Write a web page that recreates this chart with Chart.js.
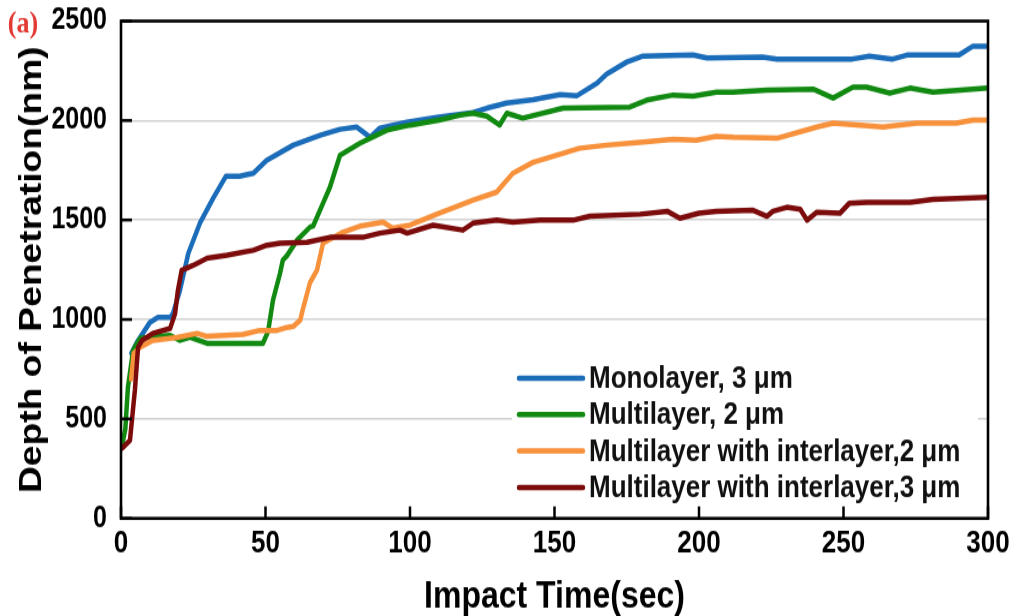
<!DOCTYPE html>
<html>
<head>
<meta charset="utf-8">
<script src="https://cdn.jsdelivr.net/npm/chart.js@4.4.1/dist/chart.umd.min.js"></script>
<style>
  html, body { margin: 0; padding: 0; background: #ffffff; }
  canvas { display: block; }
</style>
</head>
<body>
<canvas id="c" width="1019" height="513" style="width:1019px;height:616px;"></canvas>
<script>
// ---- Data (time in sec, depth in nm) ----
const seriesLabels = [
  'Monolayer, 3 \u03bcm',
  'Multilayer, 2 \u03bcm',
  'Multilayer with interlayer,2 \u03bcm',
  'Multilayer with interlayer,3 \u03bcm'
];
const seriesColors = ['#1c6db9', '#128a12', '#f7913c', '#7c0b0b'];

const monoT = [3.6, 5.5, 10, 12.8, 17, 18, 20.4, 23.3, 27.3, 31.9, 36.3, 41, 45.8, 50.4, 59.6, 68.9, 75.8, 81.6, 86.2, 89.6, 98.9, 110, 121.8, 126.6, 133.5, 142.6, 152, 157.8, 164.7, 168, 175, 180.6, 197.9, 202.8, 222, 227, 253, 259, 267, 272, 290, 294.8, 300];
const monoD = [830, 885, 985, 1010, 1010, 1030, 1147, 1333, 1484, 1610, 1720, 1720, 1735, 1800, 1876, 1926, 1956, 1967, 1916, 1962, 1992, 2017, 2040, 2062, 2088, 2105, 2130, 2125, 2188, 2233, 2294, 2324, 2329, 2314, 2319, 2309, 2309, 2324, 2309, 2329, 2329, 2374, 2374];

const multiT = [0.3, 1.5, 2.4, 4.2, 6.6, 17, 20.4, 23.9, 29.8, 49.1, 50.9, 52.6, 55, 56, 57.4, 60.9, 65.4, 66.5, 69.9, 72.3, 75.8, 82.7, 86.2, 92, 100, 110, 117.3, 121.8, 126.6, 131, 133.5, 139, 153, 176, 182, 191, 198, 206, 211.8, 223.5, 239.5, 246.4, 253.3, 258, 266, 273, 281, 300];
const multiD = [360, 450, 660, 845, 905, 920, 895, 910, 880, 880, 940, 1097, 1230, 1298, 1320, 1398, 1464, 1470, 1584, 1665, 1826, 1886, 1911, 1952, 1977, 2002, 2027, 2037, 2022, 1977, 2037, 2012, 2062, 2067, 2103, 2128, 2123, 2143, 2143, 2153, 2158, 2113, 2168, 2168, 2138, 2163, 2143, 2163];

const inter2T = [3.5, 4.4, 6.6, 11, 19.4, 26.3, 29.8, 42.2, 48, 54, 57.4, 59.6, 62, 63, 65.4, 67.8, 69.9, 76.8, 82.7, 90.7, 94, 100, 110, 117.3, 121.8, 130, 135.6, 142.6, 150.9, 158.8, 168, 179.6, 191, 199, 206, 211.8, 227, 240.8, 246.4, 263.7, 275.4, 289, 294.8, 300];
const inter2D = [700, 830, 860, 895, 910, 930, 915, 925, 945, 945, 960, 965, 996, 1055, 1185, 1247, 1383, 1439, 1469, 1489, 1459, 1474, 1534, 1574, 1600, 1640, 1735, 1790, 1826, 1861, 1876, 1891, 1906, 1901, 1921, 1916, 1911, 1967, 1987, 1967, 1987, 1987, 2002, 2002];

const inter3T = [0, 0.7, 3.1, 4.8, 5.9, 7.3, 11, 17, 18.7, 19.7, 21, 25, 29.8, 36.7, 45.8, 50.5, 55, 64.4, 72.3, 83.7, 89.6, 96.5, 99, 108, 118.3, 121.8, 130, 135.6, 145, 156.4, 162.3, 179.6, 189, 193.4, 200, 206, 218.7, 223.5, 225.6, 230.4, 235, 237.4, 240.8, 248.8, 252, 258, 273, 281, 300];
const inter3D = [350, 357, 392, 644, 860, 895, 930, 955, 1030, 1147, 1247, 1272, 1308, 1323, 1348, 1373, 1383, 1388, 1413, 1413, 1434, 1449, 1434, 1474, 1449, 1484, 1499, 1489, 1499, 1499, 1519, 1529, 1544, 1509, 1534, 1544, 1549, 1519, 1544, 1564, 1554, 1499, 1539, 1534, 1584, 1589, 1589, 1604, 1614];

const xTicks = [0, 50, 100, 150, 200, 250, 300];
const yTicks = [0, 500, 1000, 1500, 2000, 2500];
const panelLabel = '(a)';

function pts(t, d) { return t.map((v, i) => ({ x: v, y: d[i] })); }
const seriesT = [monoT, multiT, inter2T, inter3T];
const seriesD = [monoD, multiD, inter2D, inter3D];

const datasets = seriesLabels.map((lab, i) => ({
  label: lab,
  data: pts(seriesT[i], seriesD[i]),
  borderColor: seriesColors[i],
  backgroundColor: seriesColors[i],
  borderWidth: 4.5,
  pointRadius: 0,
  tension: 0,
  fill: false,
  borderJoinStyle: 'round',
  borderCapStyle: 'round',
  order: 4 - i
}));

const FONT = "'Liberation Sans', Arial, Helvetica, sans-serif";

const framePlugin = {
  id: 'framePlugin',
  beforeDraw(chart) {
    const ctx = chart.ctx;
    ctx.save();
    ctx.fillStyle = '#ffffff';
    ctx.fillRect(0, 0, chart.width, chart.height);
    ctx.restore();
  },
  afterDraw(chart) {
    const ctx = chart.ctx;
    const a = chart.chartArea;
    const xs = chart.scales.x, ys = chart.scales.y;
    ctx.save();
    // legend (inside plot, with white background)
    ctx.fillStyle = '#ffffff';
    ctx.fillRect(512, 298, 466, 122);
    const rowY0 = 315, rowStep = 30.3;
    chart.data.datasets.forEach((ds, i) => {
      const y = rowY0 + i * rowStep;
      ctx.strokeStyle = ds.borderColor;
      ctx.lineWidth = 4.5;
      ctx.lineCap = 'round';
      ctx.beginPath();
      ctx.moveTo(519, y);
      ctx.lineTo(583, y);
      ctx.stroke();
      ctx.fillStyle = '#111111';
      ctx.font = 'bold 26px ' + FONT;
      ctx.textBaseline = 'middle';
      ctx.textAlign = 'left';
      ctx.fillText(ds.label, 589, y + 1);
    });
    // inward ticks
    ctx.strokeStyle = '#000000';
    ctx.lineCap = 'butt';
    ctx.lineWidth = 2.5;
    yTicks.forEach(v => {
      const y = ys.getPixelForValue(v);
      ctx.beginPath();
      ctx.moveTo(a.left, y);
      ctx.lineTo(a.left + 11, y);
      ctx.stroke();
    });
    xTicks.forEach(v => {
      const x = xs.getPixelForValue(v);
      ctx.beginPath();
      ctx.moveTo(x, a.bottom);
      ctx.lineTo(x, a.bottom - 10);
      ctx.stroke();
    });
    // frame
    ctx.lineWidth = 2.6;
    ctx.strokeRect(a.left, a.top, a.right - a.left, a.bottom - a.top);
    // panel label
    ctx.fillStyle = '#e33a33';
    ctx.font = "bold 26px 'Liberation Serif', 'Times New Roman', serif";
    ctx.textAlign = 'center';
    ctx.textBaseline = 'middle';
    ctx.fillText(panelLabel, 23, 20);
    ctx.restore();
  }
};

new Chart(document.getElementById('c'), {
  type: 'line',
  data: { datasets },
  options: {
    responsive: false,
    animation: false,
    devicePixelRatio: 1,
    layout: { padding: { top: 17.5, right: 31, left: 0, bottom: 0 } },
    plugins: { legend: { display: false }, tooltip: { enabled: false } },
    scales: {
      x: {
        type: 'linear',
        min: 0, max: 300,
        afterBuildTicks(s) { s.ticks = xTicks.map(v => ({ value: v })); },
        ticks: { font: { family: FONT, size: 26, weight: 'bold' }, color: '#000', padding: 6, maxRotation: 0, autoSkip: false, callback: v => String(v) },
        grid: { display: false, drawTicks: false },
        border: { display: false },
        title: { display: true, text: 'Impact Time(sec)', color: '#000', font: { family: FONT, size: 32, weight: 'bold', lineHeight: 1 }, padding: { top: 0, bottom: 0 } },
        afterFit(s) { s.height = 81.3; s.paddingLeft = 0; s.paddingRight = 0; }
      },
      y: {
        type: 'linear',
        min: 0, max: 2500,
        afterBuildTicks(s) { s.ticks = yTicks.map(v => ({ value: v })); },
        ticks: { font: { family: FONT, size: 25, weight: 'bold' }, color: '#000', padding: 14, autoSkip: false, callback: v => String(v) },
        grid: { color: '#d2d2d2', lineWidth: 1.6, drawTicks: false },
        border: { display: false },
        title: { display: true, text: 'Depth of Penetration(nm)', color: '#000', font: { family: FONT, size: 31, weight: 'bold', lineHeight: 1.2 }, padding: { top: 13.5, bottom: 0 } },
        afterFit(s) { s.width = 121; s.paddingTop = 0; s.paddingBottom = 0; }
      }
    }
  },
  plugins: [framePlugin]
});
</script>
</body>
</html>
